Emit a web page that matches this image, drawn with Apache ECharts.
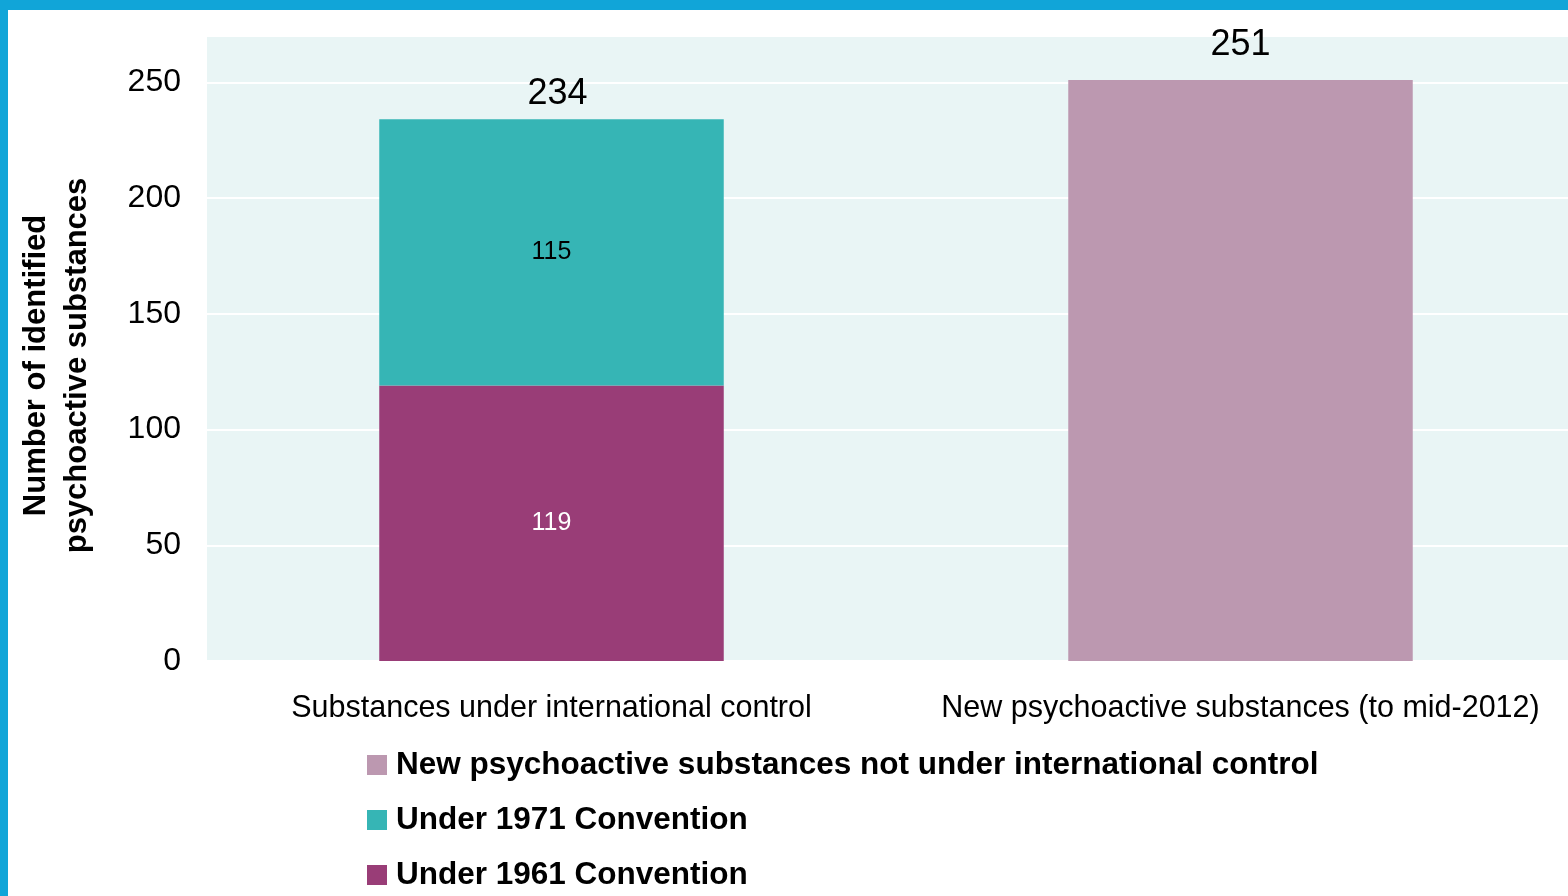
<!DOCTYPE html>
<html>
<head>
<meta charset="utf-8">
<script src="https://cdn.jsdelivr.net/npm/echarts@6/dist/echarts.min.js"></script>
<style>
  html, body { margin: 0; padding: 0; background: #ffffff; overflow: hidden; }
  #chart { width: 1600px; height: 896px; }
</style>
</head>
<body>
<div id="chart"></div>
<script>
// Categories and series values
const categories = ['Substances under international control', 'New psychoactive substances (to mid-2012)'];
const under1961 = [119, null];
const under1971 = [115, null];
const newNotControlled = [null, 251];
const totals = [234, 251];
const yTicks = { min: 0, max: 270, interval: 50 };

const seriesNames = {
  n1961: 'Under 1961 Convention',
  n1971: 'Under 1971 Convention',
  nNew: 'New psychoactive substances not under international control'
};

const FONT = '"Liberation Sans", Arial, Helvetica, sans-serif';
const COLORS = { n1961: '#993d77', n1971: '#36b5b5', nNew: '#bc98b0' };
const totalLabelGap = [7, 17];

const chart = echarts.init(document.getElementById('chart'), null, { renderer: 'canvas' });

// one legend row per entry, stacked below the plot
const legendRows = [seriesNames.nNew, seriesNames.n1971, seriesNames.n1961];
const legendTops = [744, 799, 854];
const legends = legendRows.map((name, i) => ({
  left: 362, top: legendTops[i],
  itemWidth: 20, itemHeight: 20,
  icon: 'rect',
  selectedMode: false,
  textStyle: { fontFamily: FONT, fontSize: 31.5, fontWeight: 'bold', color: '#000000', lineHeight: 32, padding: [0, 0, 0, 4] },
  data: [name]
}));

chart.setOption({
  backgroundColor: '#ffffff',
  animation: false,
  textStyle: { fontFamily: FONT },
  graphic: [
    { type: 'rect', shape: { x: 0, y: 0, width: 1600, height: 10 }, style: { fill: '#11a5d8' }, z: 100 },
    { type: 'rect', shape: { x: 0, y: 0, width: 8, height: 896 }, style: { fill: '#11a5d8' }, z: 100 }
  ],
  grid: {
    left: 207, top: 36, width: 1378, height: 625,
    outerBoundsMode: 'none',
    containLabel: false,
    show: true, backgroundColor: '#e9f5f5', borderWidth: 0
  },
  legend: legends,
  xAxis: {
    type: 'category',
    data: categories,
    axisLine: { show: false },
    axisTick: { show: false },
    axisLabel: { fontFamily: FONT, fontSize: 30.5, color: '#000000', margin: 32, interval: 0 }
  },
  yAxis: {
    type: 'value',
    min: yTicks.min, max: yTicks.max, interval: yTicks.interval,
    name: 'Number of identified\npsychoactive substances',
    nameLocation: 'middle',
    nameGap: 109,
    nameTextStyle: { fontFamily: FONT, fontSize: 31, fontWeight: 'bold', color: '#000000', lineHeight: 41, padding: [0, 34, 0, 0] },
    axisLine: { show: false },
    axisTick: { show: false },
    axisLabel: {
      fontFamily: FONT, fontSize: 32, color: '#000000', margin: 26,
      formatter: v => (v % 50 === 0 ? String(v) : '')
    },
    splitLine: { lineStyle: { color: '#ffffff', width: 2 } }
  },
  series: [
    {
      name: seriesNames.n1961,
      type: 'bar', stack: 'total', barWidth: '50%',
      itemStyle: { color: COLORS.n1961 },
      label: { show: true, position: 'inside', fontFamily: FONT, fontSize: 25, color: '#ffffff' },
      data: under1961
    },
    {
      name: seriesNames.n1971,
      type: 'bar', stack: 'total', barWidth: '50%',
      itemStyle: { color: COLORS.n1971 },
      label: { show: true, position: 'inside', fontFamily: FONT, fontSize: 25, color: '#000000' },
      data: under1971
    },
    {
      name: seriesNames.nNew,
      type: 'bar', stack: 'total', barWidth: '50%',
      itemStyle: { color: COLORS.nNew },
      label: { show: false },
      data: newNotControlled
    },
    {
      // zero-height cap carrying the total label above each stacked column
      name: 'Total',
      type: 'bar', stack: 'total', barWidth: '50%',
      itemStyle: { color: 'transparent' },
      label: {
        show: true, position: 'top',
        fontFamily: FONT, fontSize: 36, color: '#000000',
        formatter: p => String(totals[p.dataIndex])
      },
      data: totals.map((t, i) => ({ value: 0, label: { distance: totalLabelGap[i], offset: [i === 0 ? 6 : 0, 0] } }))
    }
  ]
});
</script>
</body>
</html>
